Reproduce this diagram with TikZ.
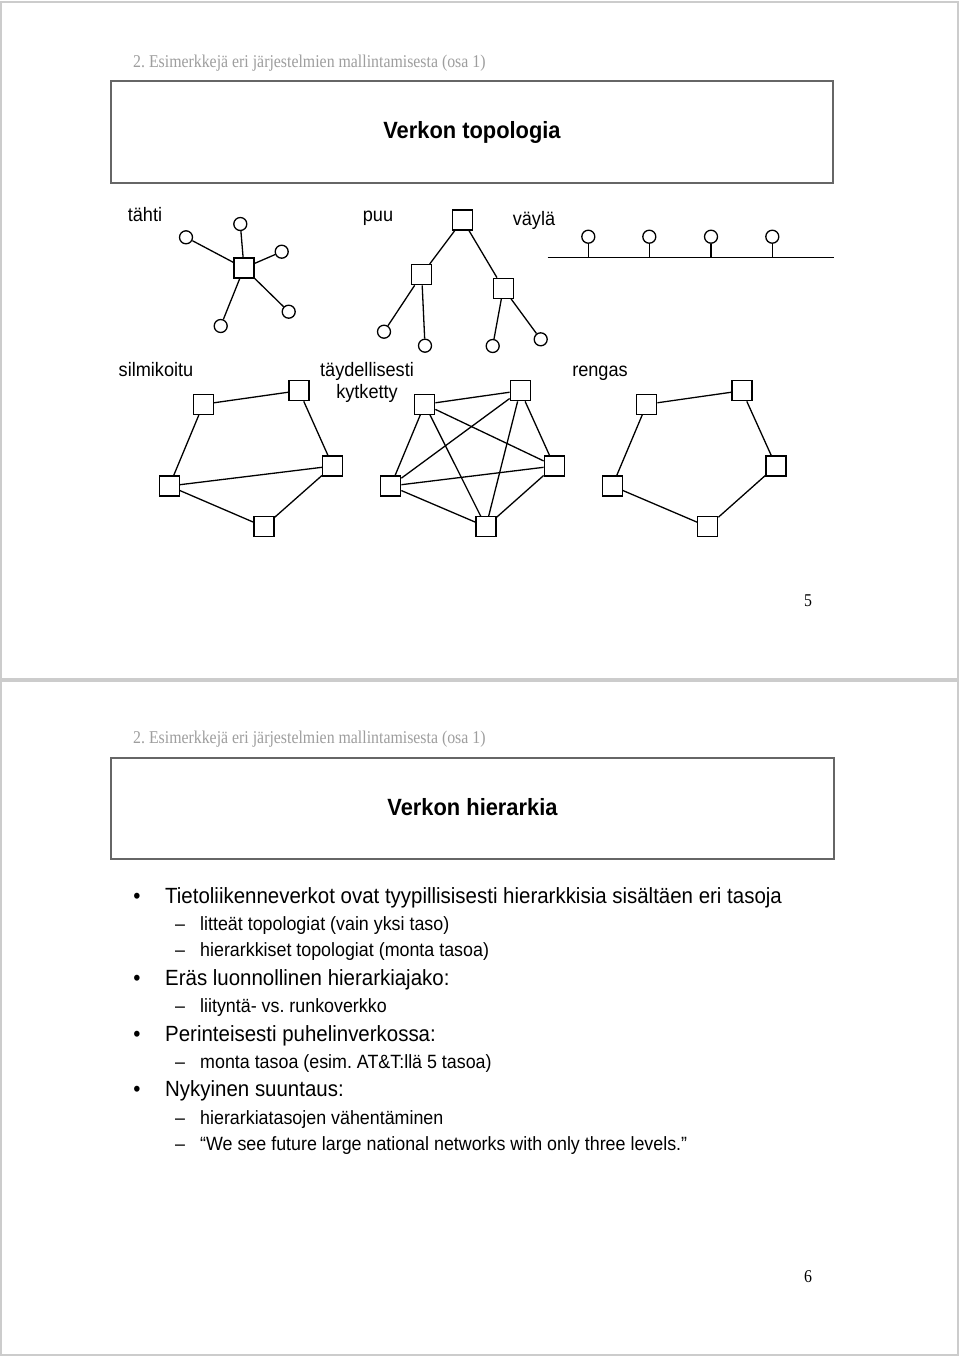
\documentclass[tikz,border=0pt]{standalone}
\usepackage{fontspec}
\setmainfont[FakeStretch=0.93]{Liberation Sans}
\newfontfamily\hdrfont[FakeStretch=0.88]{Liberation Serif}
\usepackage{tikz}
\usetikzlibrary{positioning}
\definecolor{hdrgray}{gray}{0.62}
\definecolor{pagegray}{gray}{0.80}
\definecolor{boxgray}{gray}{0.40}
\frenchspacing

\begin{document}
\begin{tikzpicture}[x=1pt, y=-1pt,
  page/.style={draw=pagegray, line width=1.6pt},
  tbox/.style={draw=boxgray, line width=1.4pt},
  hdr/.style={anchor=base west, inner sep=0, text=hdrgray,
              font=\hdrfont\fontsize{18}{20}\selectfont},
  pnum/.style={anchor=base, inner sep=0, font=\hdrfont\fontsize{18}{20}\selectfont},
  ttl/.style={anchor=base, inner sep=0, font=\bfseries\fontsize{23.5}{26}\selectfont},
  lab/.style={anchor=base, inner sep=0, font=\fontsize{19.5}{22}\selectfont},
  stn/.style={draw, rectangle, minimum size=20pt, inner sep=0, line width=1.3pt},
  trm/.style={draw, circle, minimum size=13pt, inner sep=0, line width=1.3pt},
  link/.style={draw, line width=1.3pt},
  bul/.style={anchor=base, inner sep=0, font=\fontsize{22}{24}\selectfont},
  itm/.style={anchor=base west, inner sep=0, font=\fontsize{22}{24}\selectfont},
  dsh/.style={anchor=base, inner sep=0, font=\fontsize{19.2}{22}\selectfont},
  sub/.style={anchor=base west, inner sep=0, font=\fontsize{19.2}{22}\selectfont}
]
\useasboundingbox (0,0) rectangle (960,1357);
\fill[white] (0,0) rectangle (960,1357);

% Pages
\draw[page] (1,2) rectangle (958,679);
\draw[page] (1,681) rectangle (958,1355);

% Page 5: header and title
\node[hdr] (hdr1) at (133,67) {2. Esimerkkejä eri järjestelmien mallintamisesta (osa 1)};
\draw[tbox] (111,81) rectangle (833,183);
\node[ttl] (ttl1) at (472,138) {Verkon topologia};

% Labels
\node[lab] (lstar) at (145,221) {tähti};
\node[lab] (ltree) at (378,221) {puu};
\node[lab] (lbus)  at (534,225) {väylä};
\node[lab] (lmesh) at (156,376) {silmikoitu};
\node[lab] (lfull) at (367,376) {täydellisesti};
\node[lab] (lfull2) at (367,398) {kytketty};
\node[lab] (lring) at (600,376) {rengas};

% Star
\node[stn] (hub) at (244,268) {};
\node[trm] (s1) at (240.3,224) {};
\node[trm] (s2) at (186,237.3) {};
\node[trm] (s3) at (281.7,251.7) {};
\node[trm] (s4) at (288.7,311.7) {};
\node[trm] (s5) at (220.7,326) {};
\foreach \t in {s1,s2,s3,s4,s5}
  \draw[link] (hub) -- (\t);

% Tree
\node[stn] (root) at (462.7,220) {};
\node[stn] (t1) at (421.7,274.7) {};
\node[stn] (t2) at (503.3,288.3) {};
\node[trm] (l1) at (384,331.7) {};
\node[trm] (l2) at (425,345.7) {};
\node[trm] (l3) at (492.7,346) {};
\node[trm] (l4) at (540.7,339.3) {};
\foreach \a/\b in {root/t1,root/t2,t1/l1,t1/l2,t2/l3,t2/l4}
  \draw[link] (\a) -- (\b);

% Bus
\coordinate (busL) at (547.5,257.3);
\coordinate (busR) at (834,257.3);
\draw[link, line width=1.5pt] (busL) -- (busR);
\node[trm] (b1) at (588.3,236.7) {};
\node[trm] (b2) at (649.3,236.7) {};
\node[trm] (b3) at (711,236.7) {};
\node[trm] (b4) at (772.3,236.7) {};
\foreach \t in {b1,b2,b3,b4}
  \draw[link] (\t) -- (\t |- busL);

% Mesh
\node[stn] (m1) at (203.3,404.3) {};
\node[stn] (m2) at (299,390.7) {};
\node[stn] (m3) at (332.7,466) {};
\node[stn] (m4) at (169.3,486) {};
\node[stn] (m5) at (264,526.7) {};
\foreach \a/\b in {m1/m2,m2/m3,m1/m4,m4/m3,m4/m5,m5/m3}
  \draw[link] (\a) -- (\b);

% Fully connected
\node[stn] (f1) at (424.7,404.3) {};
\node[stn] (f2) at (520.3,390.7) {};
\node[stn] (f3) at (554.3,466) {};
\node[stn] (f4) at (390.7,486) {};
\node[stn] (f5) at (486,526.7) {};
\foreach \a/\b in {f1/f2,f1/f3,f1/f4,f1/f5,f2/f3,f2/f4,f2/f5,f3/f4,f3/f5,f4/f5}
  \draw[link] (\a) -- (\b);

% Ring
\node[stn] (r1) at (646.7,404.3) {};
\node[stn] (r2) at (742,390.7) {};
\node[stn] (r3) at (776,466) {};
\node[stn] (r4) at (612.3,486) {};
\node[stn] (r5) at (707.7,526.7) {};
\foreach \a/\b in {r1/r2,r2/r3,r3/r5,r5/r4,r4/r1}
  \draw[link] (\a) -- (\b);

\node[pnum] (pn5) at (808,606) {5};

% Page 6: header and title
\node[hdr] (hdr2) at (133,743.5) {2. Esimerkkejä eri järjestelmien mallintamisesta (osa 1)};
\draw[tbox] (111,758) rectangle (834,859);
\node[ttl] (ttl2) at (472.5,815.5) {Verkon hierarkia};

% Bullets
\node[bul] (d1) at (137,903) {\textbullet};
\node[itm] (i1) at (165,903) {Tietoliikenneverkot ovat tyypillisisesti hierarkkisia sisältäen eri tasoja};
\node[dsh] (e1) at (180,930) {–};
\node[sub] (j1) at (200,930) {litteät topologiat (vain yksi taso)};
\node[dsh] (e2) at (180,956) {–};
\node[sub] (j2) at (200,956) {hierarkkiset topologiat (monta tasoa)};
\node[bul] (d2) at (137,985) {\textbullet};
\node[itm] (i2) at (165,985) {Eräs luonnollinen hierarkiajako:};
\node[dsh] (e3) at (180,1012) {–};
\node[sub] (j3) at (200,1012) {liityntä- vs. runkoverkko};
\node[bul] (d3) at (137,1041) {\textbullet};
\node[itm] (i3) at (165,1041) {Perinteisesti puhelinverkossa:};
\node[dsh] (e4) at (180,1068) {–};
\node[sub] (j4) at (200,1068) {monta tasoa (esim. AT\&T:llä 5 tasoa)};
\node[bul] (d4) at (137,1096) {\textbullet};
\node[itm] (i4) at (165,1096) {Nykyinen suuntaus:};
\node[dsh] (e5) at (180,1124) {–};
\node[sub] (j5) at (200,1124) {hierarkiatasojen vähentäminen};
\node[dsh] (e6) at (180,1150) {–};
\node[sub] (j6) at (200,1150) {“We see future large national networks with only three levels.”};

\node[pnum] (pn6) at (808,1282) {6};
\end{tikzpicture}
\end{document}
